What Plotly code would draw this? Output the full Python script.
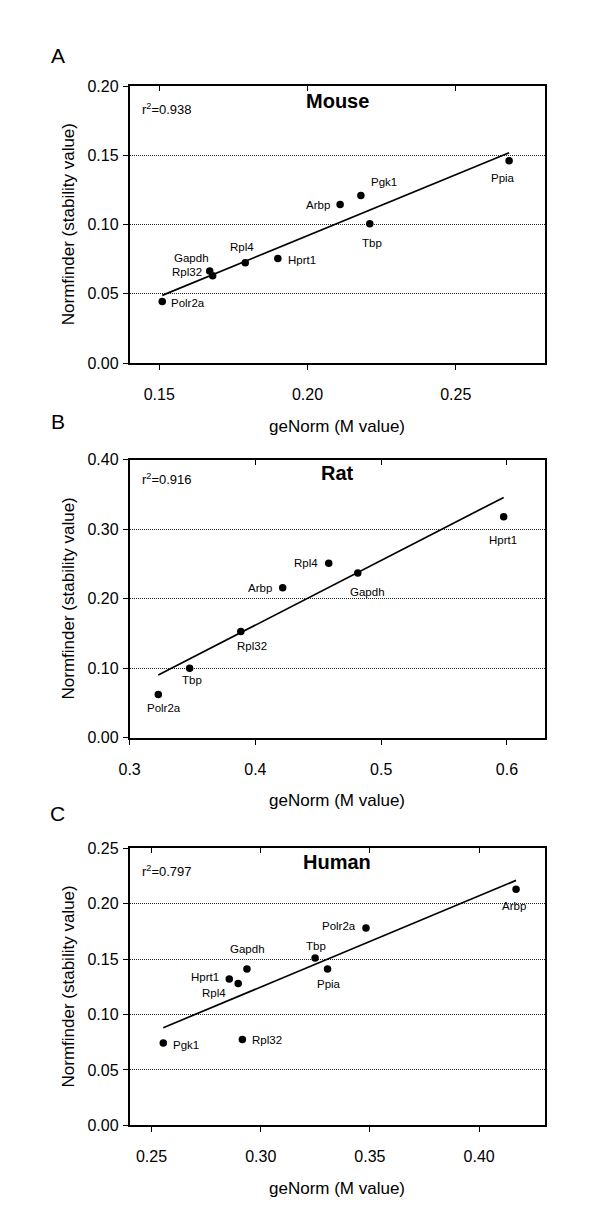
import numpy as np
import plotly.graph_objects as go

# ---------------- data ----------------
mouse_genes = ["Polr2a", "Rpl32", "Gapdh", "Rpl4", "Hprt1", "Arbp", "Pgk1", "Tbp", "Ppia"]
mouse_genorm = [0.151, 0.168, 0.167, 0.179, 0.190, 0.211, 0.218, 0.221, 0.268]
mouse_normfinder = [0.0445, 0.063, 0.0665, 0.0725, 0.0755, 0.1145, 0.121, 0.1005, 0.146]
mouse_r2 = "0.938"
mouse_xticks = [0.15, 0.20, 0.25]
mouse_yticks = [0.00, 0.05, 0.10, 0.15, 0.20]

rat_genes = ["Polr2a", "Tbp", "Rpl32", "Arbp", "Rpl4", "Gapdh", "Hprt1"]
rat_genorm = [0.3228, 0.3477, 0.3884, 0.4217, 0.4583, 0.4814, 0.5974]
rat_normfinder = [0.0625, 0.100, 0.153, 0.216, 0.251, 0.237, 0.318]
rat_r2 = "0.916"
rat_xticks = [0.3, 0.4, 0.5, 0.6]
rat_yticks = [0.00, 0.10, 0.20, 0.30, 0.40]

human_genes = ["Pgk1", "Rpl32", "Hprt1", "Rpl4", "Gapdh", "Tbp", "Ppia", "Polr2a", "Arbp"]
human_genorm = [0.2554, 0.2916, 0.2856, 0.2897, 0.2937, 0.3249, 0.3306, 0.3482, 0.4169]
human_normfinder = [0.0743, 0.0776, 0.132, 0.128, 0.141, 0.151, 0.141, 0.178, 0.213]
human_r2 = "0.797"
human_xticks = [0.25, 0.30, 0.35, 0.40]
human_yticks = [0.00, 0.05, 0.10, 0.15, 0.20, 0.25]

# ---------------- styles / layout ----------------
FONT = "Liberation Sans, Arial, Helvetica, sans-serif"
W, H = 600, 1225
X_DOMAIN = [112.7 / W, 535.5 / W]

def ydom(top_px, bottom_px):
    return [1 - bottom_px / H, 1 - top_px / H]

panels = [
    dict(letter="A", title="Mouse", genes=mouse_genes, x=mouse_genorm, y=mouse_normfinder,
         r2=mouse_r2, xticks=mouse_xticks, yticks=mouse_yticks,
         xrange=[0.14, 0.28], yrange=[0.0, 0.20], xfmt=".2f",
         dom=ydom(71, 352), letter_dy=31, r2_dy=23, title_dy=15,
         offsets={"Polr2a": ("left", 7, -2), "Rpl32": ("right", -9, 4),
                  "Gapdh": ("center", -18, 13), "Rpl4": ("center", -3, 16),
                  "Hprt1": ("left", 8, -1), "Arbp": ("right", -8, -1),
                  "Pgk1": ("left", 8, 13), "Tbp": ("center", 2, -19),
                  "Ppia": ("center", -6, -17)}),
    dict(letter="B", title="Rat", genes=rat_genes, x=rat_genorm, y=rat_normfinder,
         r2=rat_r2, xticks=rat_xticks, yticks=rat_yticks,
         xrange=[0.30, 0.63], yrange=[0.0, 0.40], xfmt=".1f",
         dom=ydom(450, 732), letter_dy=38, r2_dy=19, title_dy=13,
         offsets={"Polr2a": ("center", 6, -14), "Tbp": ("center", 2, -12),
                  "Rpl32": ("center", 11, -15), "Arbp": ("right", -9, 0),
                  "Rpl4": ("right", -9, 0), "Gapdh": ("center", 10, -19),
                  "Hprt1": ("center", -1, -23)}),
    dict(letter="C", title="Human", genes=human_genes, x=human_genorm, y=human_normfinder,
         r2=human_r2, xticks=human_xticks, yticks=human_yticks,
         xrange=[0.24, 0.43], yrange=[0.0, 0.25], xfmt=".2f",
         dom=ydom(844, 1125), letter_dy=35, r2_dy=23, title_dy=14,
         offsets={"Pgk1": ("left", 8, -2), "Rpl32": ("left", 8, -1),
                  "Hprt1": ("right", -8, 2), "Rpl4": ("right", -10, -9),
                  "Gapdh": ("center", 1, 20), "Tbp": ("center", 1, 12),
                  "Ppia": ("center", 1, -15), "Polr2a": ("right", -8, 2),
                  "Arbp": ("center", -2, -17)}),
]

fig = go.Figure()
annotations = []
layout_axes = {}

for i, p in enumerate(panels):
    n = i + 1
    xa = "x" if n == 1 else f"x{n}"
    ya = "y" if n == 1 else f"y{n}"
    xtop = f"x{n + 3}"
    xname = "xaxis" if n == 1 else f"xaxis{n}"
    yname = "yaxis" if n == 1 else f"yaxis{n}"

    xs = np.array(p["x"], dtype=float)
    ys = np.array(p["y"], dtype=float)
    slope, intercept = np.polyfit(xs, ys, 1)
    xl = np.array([xs.min(), xs.max()])
    fig.add_trace(go.Scatter(x=xl, y=slope * xl + intercept, mode="lines",
                             line=dict(color="black", width=1.7),
                             xaxis=xa, yaxis=ya, showlegend=False, hoverinfo="skip"))
    fig.add_trace(go.Scatter(x=xs, y=ys, mode="markers",
                             marker=dict(color="black", size=7.5, line=dict(width=0)),
                             text=p["genes"], xaxis=xa, yaxis=ya, showlegend=False))
    # transparent copy of the points on the top axis so its inside ticks are drawn
    fig.add_trace(go.Scatter(x=xs, y=ys, mode="markers", marker=dict(opacity=0),
                             xaxis=xtop, yaxis=ya, showlegend=False, hoverinfo="skip"))

    layout_axes[xname] = dict(
        domain=X_DOMAIN, anchor=ya, range=p["xrange"], tickvals=p["xticks"],
        tickformat=p["xfmt"], showgrid=False, zeroline=False,
        showline=True, linecolor="black", linewidth=1.7, mirror=True,
        ticks="outside", ticklen=5, tickwidth=1.4, tickcolor="black",
        ticklabelstandoff=11,
        tickfont=dict(family=FONT, size=16, color="black"))
    layout_axes[f"xaxis{n + 3}"] = dict(
        overlaying=xa, anchor=ya, side="top", range=p["xrange"], tickvals=p["xticks"],
        showticklabels=False, showgrid=False, zeroline=False, showline=False,
        ticks="inside", ticklen=5, tickwidth=1.4, tickcolor="black")
    layout_axes[yname] = dict(
        domain=p["dom"], anchor=xa, range=p["yrange"], tickvals=p["yticks"],
        tickformat=".2f", showgrid=True, gridcolor="#222222", griddash="1px,1px",
        gridwidth=1, zeroline=False,
        showline=True, linecolor="black", linewidth=1.7, mirror=True,
        ticks="outside", ticklen=5, tickwidth=1.4, tickcolor="black",
        ticklabelstandoff=1,
        tickfont=dict(family=FONT, size=16, color="black"))

    xd = f"{xa} domain"
    yd = f"{ya} domain"
    # gene labels
    for g, gx, gy in zip(p["genes"], p["x"], p["y"]):
        anc, dx, dy = p["offsets"][g]
        annotations.append(dict(x=gx, y=gy, xref=xa, yref=ya, text=g, showarrow=False,
                                xanchor=anc, yanchor="middle", xshift=dx, yshift=dy,
                                font=dict(family=FONT, size=11.5, color="black")))
    # panel title
    annotations.append(dict(x=0.5, y=1, xref=xd, yref=yd, text=f"<b>{p['title']}</b>",
                            showarrow=False, xanchor="center", yanchor="middle",
                            yshift=-p["title_dy"],
                            font=dict(family=FONT, size=20, color="black")))
    # r squared
    annotations.append(dict(x=0, y=1, xref=xd, yref=yd,
                            text=f"r<sup>2</sup>=" + p["r2"],
                            showarrow=False, xanchor="left", yanchor="middle",
                            xshift=10, yshift=-p["r2_dy"],
                            font=dict(family=FONT, size=13, color="black")))
    # axis titles
    annotations.append(dict(x=0.5, y=0, xref=xd, yref=yd, text="geNorm (M value)",
                            showarrow=False, xanchor="center", yanchor="middle",
                            yshift=-63, font=dict(family=FONT, size=17, color="black")))
    annotations.append(dict(x=0, y=0.5, xref=xd, yref=yd,
                            text="Normfinder (stability value)", textangle=-90,
                            showarrow=False, xanchor="center", yanchor="middle",
                            xshift=-61, font=dict(family=FONT, size=17, color="black")))
    # panel letter
    annotations.append(dict(x=0, y=1, xref=xd, yref=yd, text=p["letter"],
                            showarrow=False, xanchor="center", yanchor="middle",
                            xshift=-72, yshift=p["letter_dy"],
                            font=dict(family=FONT, size=21, color="black")))

fig.update_layout(
    width=W, height=H, margin=dict(l=0, r=0, t=0, b=0),
    paper_bgcolor="white", plot_bgcolor="white",
    showlegend=False, annotations=annotations, **layout_axes)

fig.write_html("out.html")
